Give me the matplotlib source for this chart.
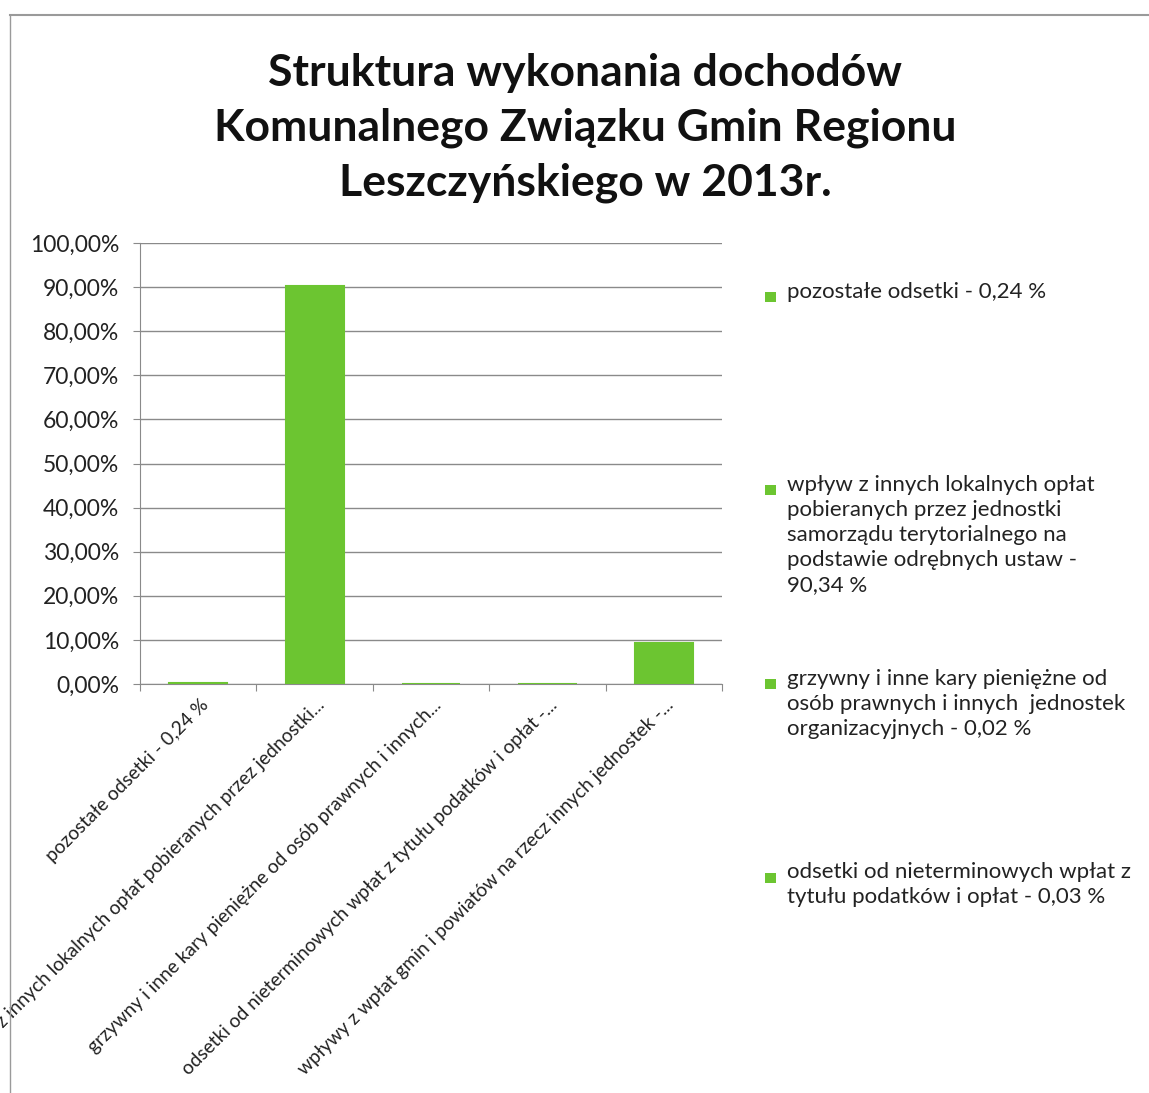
import matplotlib
matplotlib.use('Agg')
import matplotlib.pyplot as plt
from matplotlib.ticker import FuncFormatter, MultipleLocator
from matplotlib.patches import Rectangle
from matplotlib.lines import Line2D

# data
categories = [
    'pozostałe odsetki - 0,24 %',
    'wpływ z innych lokalnych opłat pobieranych przez jednostki...',
    'grzywny i inne kary pieniężne od osób prawnych i innych...',
    'odsetki od nieterminowych wpłat z tytułu podatków i opłat -...',
    'wpływy z wpłat gmin i powiatów na rzecz innych jednostek -...',
]
values = [0.24, 90.34, 0.02, 0.03, 9.37]

legend_labels = [
    'pozostałe odsetki - 0,24 %',
    'wpływ z innych lokalnych opłat\npobieranych przez jednostki\nsamorządu terytorialnego na\npodstawie odrębnych ustaw -\n90,34 %',
    'grzywny i inne kary pieniężne od\nosób prawnych i innych  jednostek\norganizacyjnych - 0,02 %',
    'odsetki od nieterminowych wpłat z\ntytułu podatków i opłat - 0,03 %',
]

title = 'Struktura wykonania dochodów\nKomunalnego Związku Gmin Regionu\nLeszczyńskiego w 2013r.'

green = '#6cc531'
font = 'Lato'

W, H = 1149, 1093
fig = plt.figure(figsize=(W / 100, H / 100), dpi=100)
fig.patch.set_facecolor('white')

# frame of the chart (top and left edges visible in the scan)
fig.add_artist(Line2D([10 / W, 1.0], [1 - 15 / H, 1 - 15 / H], color='#9a9a9a', lw=1.5))
fig.add_artist(Line2D([10 / W, 10 / W], [0, 1 - 15 / H], color='#9a9a9a', lw=1.0))

ax = fig.add_axes([140 / W, 1 - 684 / H, (722 - 140) / W, (684 - 243) / H])
x = list(range(len(categories)))
ax.bar(x, values, width=0.5, color=green, edgecolor=green, linewidth=1.5, zorder=3)

ax.set_xlim(-0.5, len(categories) - 0.5)
ax.set_ylim(0, 100)
ax.yaxis.set_major_locator(MultipleLocator(10))
ax.yaxis.set_major_formatter(FuncFormatter(lambda v, p: f'{v:.2f}%'.replace('.', ',')))
ax.grid(axis='y', color='#8a8a8a', linewidth=1.0, zorder=0)
ax.set_axisbelow(True)

for s in ['top', 'right']:
    ax.spines[s].set_visible(False)
ax.spines['left'].set_color('#8a8a8a')
ax.spines['bottom'].set_color('#8a8a8a')

ax.tick_params(axis='y', length=5, color='#8a8a8a', labelsize=16.5, pad=10)
for lab in ax.get_yticklabels():
    lab.set_family(font)
    lab.set_color('#222222')

# category boundaries as ticks, labels on the categories
ax.set_xticks([i + 0.5 for i in range(-1, len(categories))])
ax.set_xticklabels([])
ax.tick_params(axis='x', length=5, color='#8a8a8a')
for i, c in enumerate(categories):
    ax.annotate(c, xy=(i, 0), xycoords=('data', 'axes fraction'),
                xytext=(1, -9), textcoords='offset points',
                rotation=45, ha='right', va='top', rotation_mode='anchor',
                fontsize=13.8, family=font, color='#222222', annotation_clip=False)

fig.text(585 / W, 1 - 128 / H, title, ha='center', va='center', fontsize=32,
         fontweight='bold', family=font, linespacing=1.45, color='#111111')

# legend on the right
for k, lab in enumerate(legend_labels):
    y = 1 - (297 + 193.5 * k) / H
    fig.add_artist(Rectangle((765 / W, y - 5 / H), 11 / W, 10 / H,
                             facecolor=green, edgecolor='none'))
    fig.text(787 / W, y + 15 / H, lab, ha='left', va='top', fontsize=16,
             family=font, linespacing=1.3, color='#222222')

fig.savefig('out.png', dpi=100)
